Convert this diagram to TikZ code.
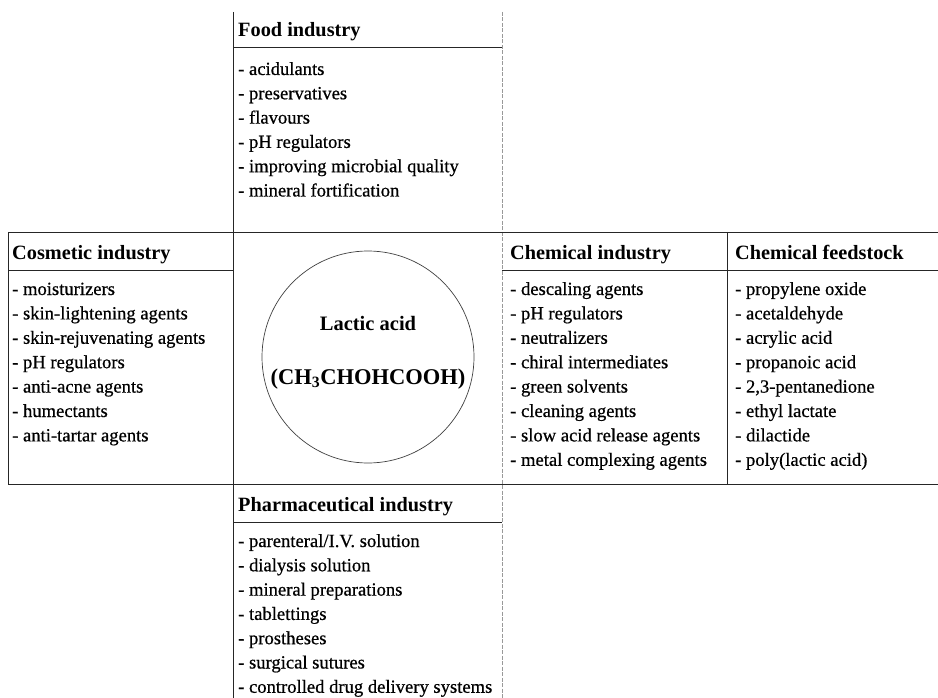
\documentclass[tikz,border=0pt]{standalone}
\usepackage{fontspec}
\setmainfont{Liberation Serif}
\newfontfamily\listfont[FakeBold=0.6]{Liberation Serif}
\usepackage{tikz}

\begin{document}
\begin{tikzpicture}[x=1pt,y=-1pt,
  head/.style={anchor=base west,inner sep=0pt,font=\fontsize{20.3}{24}\selectfont\bfseries},
  item/.style={anchor=base west,inner sep=0pt,font=\fontsize{18.6}{22}\listfont},
  frame/.style={black!85,line width=0.9pt},
  faint/.style={black!40,line width=0.7pt,dash pattern=on 4pt off 1.5pt}]
\useasboundingbox (0,0) rectangle (938,698);

% frame lines
\draw[frame] (233,12) -- (233,698);
\draw[faint] (502,12) -- (502,698);
\draw[frame] (8,232) -- (938,232);
\draw[frame] (8,484) -- (938,484);
\draw[frame] (8,232) -- (8,484);
\draw[frame] (727,232) -- (727,484);
\draw[frame] (233,47) -- (502,47);
\draw[frame] (8,270) -- (233,270);
\draw[frame] (502,270) -- (938,270);
\draw[frame] (233,522) -- (502,522);

% lactic acid in the middle
\node[draw=black!75,line width=0.7pt,circle,minimum size=212pt,inner sep=0pt] (acid) at (368,357) {};
\node[anchor=base,font=\fontsize{20.5}{24}\selectfont\bfseries] (acidname) at (368,330) {Lactic acid};
\node[anchor=base,font=\fontsize{22.5}{26}\selectfont\bfseries] (acidformula) at (368,384) {(CH\textsubscript{3}CHOHCOOH)};

% food industry
\node[head] (food) at (238,37) {Food industry};
\foreach \t [count=\i from 0] in {acidulants, preservatives, flavours, pH regulators,
  improving microbial quality, mineral fortification}
  \node[item] (food-\i) at (238,{75+24.3*\i}) {- \t};

% cosmetic industry
\node[head] (cosmetic) at (12,259) {Cosmetic industry};
\foreach \t [count=\i from 0] in {moisturizers, skin-lightening agents, skin-rejuvenating agents,
  pH regulators, anti-acne agents, humectants, anti-tartar agents}
  \node[item] (cosmetic-\i) at (12,{295+24.4*\i}) {- \t};

% chemical industry
\node[head] (chemical) at (510,259) {Chemical industry};
\foreach \t [count=\i from 0] in {descaling agents, pH regulators, neutralizers,
  chiral intermediates, green solvents, cleaning agents, slow acid release agents,
  metal complexing agents}
  \node[item] (chemical-\i) at (510,{295+24.4*\i}) {- \t};

% chemical feedstock
\node[head] (feedstock) at (735,259) {Chemical feedstock};
\foreach \t [count=\i from 0] in {propylene oxide, acetaldehyde, acrylic acid, propanoic acid,
  {2,3-pentanedione}, ethyl lactate, dilactide, poly(lactic acid)}
  \node[item] (feedstock-\i) at (735,{295+24.4*\i}) {- \t};

% pharmaceutical industry
\node[head] (pharma) at (238,511) {Pharmaceutical industry};
\foreach \t [count=\i from 0] in {parenteral/I.V. solution, dialysis solution,
  mineral preparations, tablettings, prostheses, surgical sutures,
  controlled drug delivery systems}
  \node[item] (pharma-\i) at (238,{547+24.3*\i}) {- \t};
\end{tikzpicture}
\end{document}
